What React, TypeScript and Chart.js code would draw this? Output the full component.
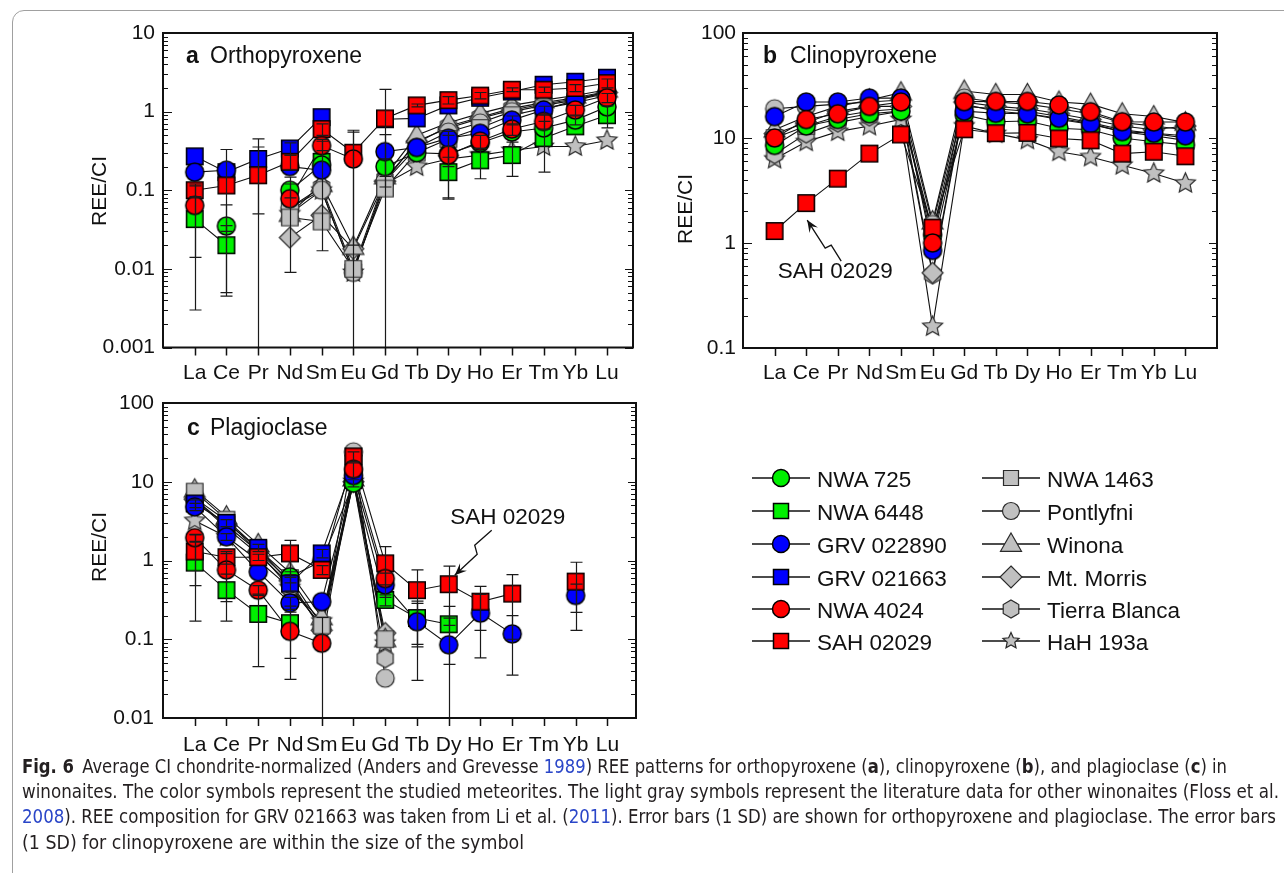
import React, { useEffect, useLayoutEffect, useRef } from "react";
import { Chart, registerables } from "chart.js";

Chart.register(...registerables);

const FONT = "Arial, 'Liberation Sans', Helvetica, sans-serif";
const CAPTION_FONT = "'Liberation Sans Narrow', 'Arial Narrow', 'DejaVu Sans Condensed', Arial, 'Liberation Sans', sans-serif";

// ---------------- data ----------------
const elements = ["La", "Ce", "Pr", "Nd", "Sm", "Eu", "Gd", "Tb", "Dy", "Ho", "Er", "Tm", "Yb", "Lu"];

const seriesNames = [
  "NWA 725", "NWA 6448", "GRV 022890", "GRV 021663", "NWA 4024", "SAH 02029",
  "NWA 1463", "Pontlyfni", "Winona", "Mt. Morris", "Tierra Blanca", "HaH 193a",
];

const opxTickLabels = ["0.001", "0.01", "0.1", "1", "10"];
const cpxTickLabels = ["0.1", "1", "10", "100"];
const plgTickLabels = ["0.01", "0.1", "1", "10", "100"];

// (a) orthopyroxene
const opx_NWA725 = [null, 0.035, null, 0.10, 0.21, null, 0.20, 0.30, 0.29, 0.40, 0.55, 0.62, 0.78, 1.15];
const opx_NWA6448 = [0.043, 0.020, null, null, 0.23, null, null, null, 0.17, 0.24, 0.28, 0.46, 0.65, 0.90];
const opx_GRV022890 = [0.17, 0.18, null, 0.20, 0.18, null, 0.31, 0.35, 0.46, 0.53, 0.78, 1.05, 1.40, 1.80];
const opx_GRV021663 = [0.27, 0.17, 0.25, 0.34, 0.85, null, 0.80, 0.82, 1.20, 1.50, 1.80, 2.20, 2.40, 2.70];
const opx_NWA4024 = [0.064, null, null, 0.078, 0.37, 0.25, null, null, 0.28, 0.42, 0.60, 0.75, 1.05, 1.50];
const opx_SAH02029 = [0.10, 0.115, 0.155, 0.23, 0.60, 0.30, 0.82, 1.20, 1.40, 1.60, 1.90, 1.90, 2.00, 2.30];
const opx_NWA1463 = [null, null, null, 0.045, 0.040, 0.010, 0.105, 0.30, 0.45, 0.62, 0.90, 1.10, 1.30, 1.60];
const opx_Pontlyfni = [null, null, null, 0.060, 0.100, 0.009, 0.13, 0.35, 0.55, 0.72, 1.00, 1.20, 1.40, 1.70];
const opx_Winona = [null, null, null, 0.050, 0.120, 0.019, 0.15, 0.50, 0.72, 0.95, 1.20, 1.40, 1.60, 1.90];
const opx_MtMorris = [null, null, null, 0.025, 0.048, 0.018, 0.13, 0.42, 0.62, 0.82, 1.05, 1.25, 1.45, 1.75];
const opx_TierraBlanca = [null, null, null, 0.060, 0.110, 0.010, 0.14, 0.40, 0.65, 0.85, 1.10, 1.30, 1.50, 1.80];
const opx_HaH193a = [null, null, null, 0.050, 0.100, 0.009, 0.12, 0.20, 0.25, 0.28, 0.32, 0.36, 0.36, 0.43];

// (a) 1 SD
const opxErr_NWA725 = [null, 0.03, null, 0.02, null, null, 0.05, null, 0.21, null, null, null, 0.1, null];
const opxErr_NWA6448 = [0.04, 0.0155, null, null, 0.213, null, null, null, 0.093, 0.10, 0.13, 0.29, null, 0.28];
const opxErr_GRV022890 = [null, 0.15, null, null, null, null, 0.2, null, 0.1, null, 0.1, 0.12, null, null];
const opxErr_GRV021663 = [null, null, 0.2, 0.06, null, null, null, null, null, null, null, null, null, null];
const opxErr_NWA4024 = [0.05, null, null, 0.069, 0.05, 0.3, null, null, 0.08, 0.08, 0.1, 0.15, 0.15, 0.2];
const opxErr_SAH02029 = [0.02, null, 0.2, 0.05, 0.1, 0.28, 1.1, 0.05, 0.15, 0.15, 0.1, 0.15, 0.2, 0.3];

// (b) clinopyroxene
const cpx_NWA725 = [8.5, 13, 15, 17, 18, 1.2, 16.6, 14.3, 14.5, 12.4, 12, 10, 9.2, 8.6];
const cpx_NWA6448 = [null, null, null, null, null, null, null, null, null, null, null, null, null, null];
const cpx_GRV022890 = [16, 22, 22, 24, 24, 0.85, 18, 17.2, 17, 15.4, 13.7, 11.5, 11.1, 10.5];
const cpx_GRV021663 = [null, null, null, null, null, null, null, null, null, null, null, null, null, null];
const cpx_NWA4024 = [10, 15, 17, 20, 22, 1.0, 22.2, 22.3, 22.3, 20.6, 17.8, 14.3, 14.2, 14.2];
const cpx_SAH02029 = [1.3, 2.4, 4.1, 7.1, 10.8, 1.4, 12.1, 11.1, 11.2, 9.9, 9.5, 7.1, 7.4, 6.7];
const cpx_NWA1463 = [10, 13, 16, 18, 19, 1.3, 21, 18, 17, 15, 13.5, 11.5, 10.5, 9.5];
const cpx_Pontlyfni = [19, 20, 21, 22, 23, 1.5, 24, 22, 21, 19, 17, 14, 13, 12];
const cpx_Winona = [12, 16, 20, 23, 27, 1.6, 28, 26, 26, 22, 21, 17, 16, 14];
const cpx_MtMorris = [11, 14, 18, 20, 20, 0.52, 22, 20, 19, 17, 15, 13, 12, 13];
const cpx_TierraBlanca = [7, 11, 14, 16, 18, 0.5, 20, 19, 18, 16, 14, 12, 11, 10];
const cpx_HaH193a = [6.3, 9.2, 11.5, 13, 15, 0.16, 13, 11, 9.6, 7.4, 6.6, 5.5, 4.6, 3.7];

// (c) plagioclase
const plg_NWA725 = [null, null, null, 0.62, 0.98, 9.6, null, null, null, null, null, null, null, null];
const plg_NWA6448 = [0.94, 0.42, 0.21, 0.16, null, 10.5, 0.316, 0.186, 0.155, null, null, null, null, null];
const plg_GRV022890 = [4.8, 2.0, 0.72, 0.29, 0.30, 12, 0.49, 0.167, 0.085, 0.215, 0.117, null, 0.36, null];
const plg_GRV021663 = [5.3, 3.0, 1.45, 0.51, 1.23, 17, null, null, null, null, null, null, null, null];
const plg_NWA4024 = [1.95, 0.76, 0.42, 0.126, 0.089, 14.4, 0.59, null, null, null, null, null, null, null];
const plg_SAH02029 = [1.3, 1.1, 1.1, 1.23, 0.76, 21, 0.92, 0.42, 0.50, 0.30, 0.38, null, 0.54, null];
const plg_NWA1463 = [7.5, 3.3, 1.4, 0.6, 0.15, 12, 0.10, null, null, null, null, null, null, null];
const plg_Pontlyfni = [6.0, 2.6, 1.2, 0.5, 0.14, 24, 0.032, null, null, null, null, null, null, null];
const plg_Winona = [7.9, 3.6, 1.6, 0.7, 0.19, 11, 0.10, null, null, null, null, null, null, null];
const plg_MtMorris = [6.0, 2.8, 1.3, 0.55, 0.13, 10, 0.12, null, null, null, null, null, null, null];
const plg_TierraBlanca = [6.2, 3.2, 1.3, 0.45, 0.15, 10, 0.057, null, null, null, null, null, null, null];
const plg_HaH193a = [3.2, 2.0, 1.0, 0.45, 0.17, 10, 0.089, null, null, null, null, null, null, null];

// (c) 1 SD
const plgErr_NWA725 = [null, null, null, 0.1, null, 1.0, null, null, null, null, null, null, null, null];
const plgErr_NWA6448 = [0.77, 0.25, 0.165, 0.103, null, null, 0.05, 0.1, 0.107, null, null, null, null, null];
const plgErr_GRV022890 = [0.5, 0.2, null, 0.05, null, null, null, 0.137, 0.1, 0.157, 0.082, null, 0.14, null];
const plgErr_GRV021663 = [0.6, 0.3, 0.15, 0.1, 0.15, null, null, null, null, null, null, null, null, null];
const plgErr_NWA4024 = [0.2, 0.46, 0.06, 0.095, 0.1, 3, 0.1, null, null, null, null, null, null, null];
const plgErr_SAH02029 = [0.82, 0.2, 0.1, 0.57, 0.1, 3, 0.58, 0.34, 0.35, 0.17, 0.28, null, 0.41, null];

// ---------------- styles ----------------
const seriesShapes = ["circle", "square", "circle", "square", "circle", "square", "square", "circle", "triangle", "diamond", "hexagon", "star"];
const GREEN = "#00f000", BLUE = "#0000ff", RED = "#ff0000", GRAY = "#c0c0c0";
const seriesFills = [GREEN, GREEN, BLUE, BLUE, RED, RED, GRAY, GRAY, GRAY, GRAY, GRAY, GRAY];
const seriesStrokes = ["#000", "#000", "#000", "#000", "#000", "#000", "#2a2a2a", "#2a2a2a", "#2a2a2a", "#2a2a2a", "#2a2a2a", "#2a2a2a"];
// lower = drawn on top
const seriesOrder = [4, 5, 2, 3, 0, 1, 6, 7, 8, 9, 10, 11];
const shapeSize: any = { circle: 18, square: 16.5, triangle: 21, diamond: 21, hexagon: 18.5, star: 21 };
const legendShapeSize: any = { circle: 17, square: 15, triangle: 21, diamond: 22, hexagon: 18, star: 17 };

function symbolPath(shape: string, cx: number, cy: number, size: number): string {
  const r = size / 2;
  const poly = (pts: number[][]) => "M" + pts.map((p) => p[0].toFixed(2) + "," + p[1].toFixed(2)).join(" L") + " Z";
  switch (shape) {
    case "circle":
      return `M${cx - r},${cy} a${r},${r} 0 1,0 ${2 * r},0 a${r},${r} 0 1,0 ${-2 * r},0 Z`;
    case "square":
      return poly([[cx - r, cy - r], [cx + r, cy - r], [cx + r, cy + r], [cx - r, cy + r]]);
    case "triangle": {
      const h = size * 0.87;
      return poly([[cx, cy - h * 0.6], [cx + r, cy + h * 0.4], [cx - r, cy + h * 0.4]]);
    }
    case "diamond":
      return poly([[cx, cy - r], [cx + r, cy], [cx, cy + r], [cx - r, cy]]);
    case "hexagon": {
      const pts: number[][] = [];
      for (let k = 0; k < 6; k++) {
        const a = (-90 + 60 * k) * Math.PI / 180;
        pts.push([cx + r * Math.cos(a), cy + r * Math.sin(a)]);
      }
      return poly(pts);
    }
    case "star": {
      const pts: number[][] = [];
      for (let k = 0; k < 10; k++) {
        const a = (-90 + 36 * k) * Math.PI / 180;
        const rr = k % 2 === 0 ? r : r * 0.47;
        pts.push([cx + rr * Math.cos(a), cy + rr * Math.sin(a)]);
      }
      return poly(pts);
    }
  }
  return "";
}

const symbolCache: any = {};
function symbolCanvas(s: number): HTMLCanvasElement {
  if (symbolCache[s]) return symbolCache[s];
  const shape = seriesShapes[s];
  const size = shapeSize[shape];
  const lw = s < 6 ? 1.5 : 1.2;
  const dim = Math.ceil(size + lw + 4);
  const c = document.createElement("canvas");
  c.width = dim;
  c.height = dim;
  const g = c.getContext("2d")!;
  const p = new Path2D(symbolPath(shape, dim / 2, dim / 2, size));
  g.fillStyle = seriesFills[s];
  g.fill(p);
  g.lineWidth = lw;
  g.lineJoin = "miter";
  g.strokeStyle = seriesStrokes[s];
  g.stroke(p);
  symbolCache[s] = c;
  return c;
}

// ---------------- panels ----------------
type Note = { series: number; idx: number; text: string; tdx: number; tdy: number; path: number[][] };
type PanelCfg = {
  id: string; left: number; top: number; width: number; height: number;
  area: { l: number; t: number; r: number; b: number };
  xMax: number; tickLabels: string[];
  data: (number | null)[][]; err: ((number | null)[] | null)[];
  letter: string; name: string; letterX: number; nameX: number; titleBase: number;
  yTitleX: number; yTitleY: number; yPad: number; xPad: number; note?: Note;
};

const panelA: PanelCfg = {
  id: "a", left: 40, top: 10, width: 610, height: 390,
  area: { l: 163, t: 33, r: 633, b: 347.5 },
  xMax: 14.82, tickLabels: opxTickLabels,
  data: [opx_NWA725, opx_NWA6448, opx_GRV022890, opx_GRV021663, opx_NWA4024, opx_SAH02029,
    opx_NWA1463, opx_Pontlyfni, opx_Winona, opx_MtMorris, opx_TierraBlanca, opx_HaH193a],
  err: [opxErr_NWA725, opxErr_NWA6448, opxErr_GRV022890, opxErr_GRV021663, opxErr_NWA4024, opxErr_SAH02029,
    null, null, null, null, null, null],
  letter: "a", name: "Orthopyroxene", letterX: 186, nameX: 210, titleBase: 63,
  yTitleX: 100, yTitleY: 191, yPad: 8, xPad: 13,
};

const panelB: PanelCfg = {
  id: "b", left: 650, top: 10, width: 620, height: 390,
  area: { l: 743, t: 33, r: 1217, b: 348 },
  xMax: 15, tickLabels: cpxTickLabels,
  data: [cpx_NWA725, cpx_NWA6448, cpx_GRV022890, cpx_GRV021663, cpx_NWA4024, cpx_SAH02029,
    cpx_NWA1463, cpx_Pontlyfni, cpx_Winona, cpx_MtMorris, cpx_TierraBlanca, cpx_HaH193a],
  err: [null, null, null, null, null, null, null, null, null, null, null, null],
  letter: "b", name: "Clinopyroxene", letterX: 763, nameX: 790, titleBase: 63,
  yTitleX: 686, yTitleY: 209, yPad: 7, xPad: 13,
  note: { series: 5, idx: 1, text: "SAH 02029", tdx: 29, tdy: 69, path: [[35, 58], [25, 42], [19, 45], [1, 17]] },
};

const panelC: PanelCfg = {
  id: "c", left: 40, top: 380, width: 610, height: 400,
  area: { l: 163, t: 403, r: 636, b: 718 },
  xMax: 14.9, tickLabels: plgTickLabels,
  data: [plg_NWA725, plg_NWA6448, plg_GRV022890, plg_GRV021663, plg_NWA4024, plg_SAH02029,
    plg_NWA1463, plg_Pontlyfni, plg_Winona, plg_MtMorris, plg_TierraBlanca, plg_HaH193a],
  err: [plgErr_NWA725, plgErr_NWA6448, plgErr_GRV022890, plgErr_GRV021663, plgErr_NWA4024, plgErr_SAH02029,
    null, null, null, null, null, null],
  letter: "c", name: "Plagioclase", letterX: 187, nameX: 210, titleBase: 435,
  yTitleX: 100, yTitleY: 547, yPad: 9, xPad: 15,
  note: { series: 5, idx: 8, text: "SAH 02029", tdx: 59, tdy: -66, path: [[43, -54], [26, -39], [28.5, -30], [6, -9]] },
};

function makePlugin(cfg: PanelCfg) {
  const yVals = cfg.tickLabels.map((t) => parseFloat(t));
  const yMin = yVals[0], yMax = yVals[yVals.length - 1];
  return {
    id: "deco_" + cfg.id,
    afterDatasetsDraw(chart: any) {
      const ctx: CanvasRenderingContext2D = chart.ctx;
      const { left, top, right, bottom } = chart.chartArea;
      const xs = chart.scales.x, ys = chart.scales.y;
      // error bars
      ctx.save();
      ctx.strokeStyle = "#1a1a1a";
      ctx.lineWidth = 1.2;
      cfg.err.forEach((errs, s) => {
        if (!errs) return;
        errs.forEach((e, i) => {
          const v = cfg.data[s][i];
          if (e == null || v == null) return;
          const px = Math.round(xs.getPixelForValue(i + 1)) + 0.5;
          const hi = v + e, lo = v - e;
          const yHi = Math.max(top, ys.getPixelForValue(hi));
          const yLo = lo > yMin ? ys.getPixelForValue(lo) : bottom;
          ctx.beginPath();
          ctx.moveTo(px, yHi);
          ctx.lineTo(px, yLo);
          if (hi < yMax) { ctx.moveTo(px - 6, yHi); ctx.lineTo(px + 6, yHi); }
          if (lo > yMin) { ctx.moveTo(px - 6, yLo); ctx.lineTo(px + 6, yLo); }
          ctx.stroke();
        });
      });
      ctx.restore();
      // frame and ticks
      ctx.save();
      ctx.strokeStyle = "#111";
      ctx.lineWidth = 2;
      ctx.strokeRect(left, top, right - left, bottom - top);
      ctx.lineWidth = 1.5;
      ctx.beginPath();
      for (let i = 1; i <= elements.length; i++) {
        const px = Math.round(xs.getPixelForValue(i)) + 0.5;
        ctx.moveTo(px, bottom);
        ctx.lineTo(px, bottom + 8);
      }
      ctx.stroke();
      ctx.lineWidth = 1.2;
      ctx.beginPath();
      const p0 = Math.round(Math.log10(yMin)), p1 = Math.round(Math.log10(yMax));
      for (let p = p0; p <= p1; p++) {
        for (let k = 1; k <= 9; k++) {
          const v = k * Math.pow(10, p);
          if (v > yMax * 1.0001) break;
          const py = Math.round(ys.getPixelForValue(v)) + 0.5;
          const lenL = k === 1 ? 9 : 5;
          const lenR = k === 1 ? 8 : 5;
          ctx.moveTo(left, py); ctx.lineTo(left + lenL, py);
          ctx.moveTo(right, py); ctx.lineTo(right - lenR, py);
        }
      }
      ctx.stroke();
      ctx.restore();
    },
    afterDraw(chart: any) {
      const ctx: CanvasRenderingContext2D = chart.ctx;
      ctx.save();
      ctx.fillStyle = "#111";
      ctx.textBaseline = "alphabetic";
      ctx.textAlign = "left";
      ctx.font = `bold 23px ${FONT}`;
      ctx.fillText(cfg.letter, cfg.letterX - cfg.left, cfg.titleBase - cfg.top);
      ctx.font = `23px ${FONT}`;
      ctx.fillText(cfg.name, cfg.nameX - cfg.left, cfg.titleBase - cfg.top);
      // y title
      ctx.save();
      ctx.translate(cfg.yTitleX - cfg.left, cfg.yTitleY - cfg.top);
      ctx.rotate(-Math.PI / 2);
      ctx.textAlign = "center";
      ctx.textBaseline = "middle";
      ctx.font = `21px ${FONT}`;
      ctx.fillText("REE/CI", 0, 0);
      ctx.restore();
      // annotation
      const n = cfg.note;
      if (n) {
        const v = cfg.data[n.series][n.idx];
        if (v != null) {
          const ax = chart.scales.x.getPixelForValue(n.idx + 1);
          const ay = chart.scales.y.getPixelForValue(v);
          ctx.font = `22.5px ${FONT}`;
          ctx.textAlign = "center";
          ctx.textBaseline = "middle";
          ctx.fillText(n.text, ax + n.tdx, ay + n.tdy);
          ctx.strokeStyle = "#111";
          ctx.lineWidth = 1.3;
          ctx.beginPath();
          n.path.forEach((p, i) => (i === 0 ? ctx.moveTo(ax + p[0], ay + p[1]) : ctx.lineTo(ax + p[0], ay + p[1])));
          ctx.stroke();
          const a = n.path[n.path.length - 2], b = n.path[n.path.length - 1];
          const ang = Math.atan2(b[1] - a[1], b[0] - a[0]);
          const tx = ax + b[0], ty = ay + b[1];
          const L = 12, W = 5;
          ctx.beginPath();
          ctx.moveTo(tx, ty);
          ctx.lineTo(tx - L * Math.cos(ang) + W * Math.sin(ang), ty - L * Math.sin(ang) - W * Math.cos(ang));
          ctx.lineTo(tx - 0.6 * L * Math.cos(ang), ty - 0.6 * L * Math.sin(ang));
          ctx.lineTo(tx - L * Math.cos(ang) - W * Math.sin(ang), ty - L * Math.sin(ang) + W * Math.cos(ang));
          ctx.closePath();
          ctx.fillStyle = "#111";
          ctx.fill();
        }
      }
      ctx.restore();
    },
  };
}

function Panel({ cfg }: { cfg: PanelCfg }) {
  const ref = useRef<HTMLCanvasElement>(null);
  useEffect(() => {
    const canvas = ref.current;
    if (!canvas) return;
    const yVals = cfg.tickLabels.map((t) => parseFloat(t));
    const datasets: any[] = [];
    cfg.data.forEach((vals, s) => {
      if (vals.every((v) => v == null)) return;
      const pts = vals.map((v, i) => ({ x: i + 1, y: v }));
      datasets.push({
        label: seriesNames[s] + " line", data: pts, showLine: true, borderColor: "#111",
        borderWidth: 1.1, pointRadius: 0, pointHoverRadius: 0, spanGaps: false, tension: 0, order: 100 + s,
      });
      datasets.push({
        label: seriesNames[s], data: pts, showLine: false, pointStyle: symbolCanvas(s),
        pointRadius: 9, pointHoverRadius: 9, order: seriesOrder[s],
      });
    });
    const chart = new Chart(canvas, {
      type: "scatter",
      data: { datasets },
      options: {
        animation: false,
        responsive: false,
        maintainAspectRatio: false,
        events: [],
        layout: { padding: { left: 0, top: cfg.area.t - cfg.top, right: cfg.left + cfg.width - cfg.area.r, bottom: 0 } },
        plugins: { legend: { display: false }, tooltip: { enabled: false }, title: { display: false } },
        scales: {
          x: {
            type: "linear", min: 0, max: cfg.xMax,
            grid: { display: false, drawTicks: false }, border: { display: false },
            afterFit: (s: any) => { s.height = cfg.top + cfg.height - cfg.area.b; },
            afterBuildTicks: (s: any) => { s.ticks = elements.map((_, i) => ({ value: i + 1 })); },
            ticks: {
              autoSkip: false, maxRotation: 0, minRotation: 0, padding: cfg.xPad, color: "#111",
              font: { family: FONT, size: 21 },
              callback: (_v: any, i: number) => elements[i],
            },
          },
          y: {
            type: "logarithmic", min: yVals[0], max: yVals[yVals.length - 1],
            grid: { display: false, drawTicks: false }, border: { display: false },
            afterFit: (s: any) => { s.width = cfg.area.l - cfg.left; },
            afterBuildTicks: (s: any) => { s.ticks = yVals.map((v) => ({ value: v })); },
            ticks: {
              autoSkip: false, padding: cfg.yPad, color: "#111",
              font: { family: FONT, size: 21 },
              callback: (_v: any, i: number) => cfg.tickLabels[i],
            },
          },
        },
      } as any,
      plugins: [makePlugin(cfg)],
    });
    return () => chart.destroy();
  }, [cfg]);
  return (
    <canvas
      ref={ref}
      width={cfg.width}
      height={cfg.height}
      style={{ position: "absolute", left: cfg.left, top: cfg.top, width: cfg.width, height: cfg.height }}
    />
  );
}

// ---------------- legend ----------------
const legendRowY = [478, 511, 544, 577, 609, 641];
const legendLineX = [[752, 810], [982, 1040]];
const legendTextX = [817, 1047];

function Legend() {
  return (
    <svg width={1284} height={873} style={{ position: "absolute", left: 0, top: 0, pointerEvents: "none" }}>
      {seriesNames.map((name, s) => {
        const col = s < 6 ? 0 : 1;
        const cy = legendRowY[s % 6];
        const [x0, x1] = legendLineX[col];
        const mx = (x0 + x1) / 2;
        const shape = seriesShapes[s];
        return (
          <g key={name}>
            <line x1={x0} x2={x1} y1={cy} y2={cy} stroke="#111" strokeWidth={1.6} />
            <path d={symbolPath(shape, mx, cy, legendShapeSize[shape])} fill={seriesFills[s]}
              stroke={seriesStrokes[s]} strokeWidth={s < 6 ? 1.5 : 1.2} />
            <text x={legendTextX[col]} y={cy + 1} dominantBaseline="central" fontSize={22.5}
              fontFamily={FONT} fill="#111">{name}</text>
          </g>
        );
      })}
    </svg>
  );
}

// ---------------- caption ----------------
function CaptionLine({ top, width, children }: { top: number; width: number; children: any }) {
  const ref = useRef<HTMLDivElement>(null);
  useLayoutEffect(() => {
    const fit = () => {
      const el = ref.current;
      if (!el) return;
      el.style.transform = "none";
      const w = el.getBoundingClientRect().width;
      if (w > 0) el.style.transform = `scaleX(${width / w})`;
    };
    fit();
    const fonts: any = (document as any).fonts;
    if (fonts && fonts.ready) fonts.ready.then(fit);
  }, [width]);
  return (
    <div
      ref={ref}
      style={{
        position: "absolute", left: 22, top, whiteSpace: "nowrap", transformOrigin: "0 0",
        fontFamily: CAPTION_FONT, fontSize: 19, lineHeight: "22px", color: "#231f20",
      }}
    >
      {children}
    </div>
  );
}

const LINK = "#2a46c8";

export default function App() {
  return (
    <div style={{ position: "fixed", left: 0, top: 0, width: 1284, height: 873, background: "#fff", overflow: "hidden", fontFamily: FONT }}>
      <div style={{ position: "absolute", left: 12, top: 10, width: 1320, height: 920, border: "1px solid #a0a0a0", borderRadius: 12, boxSizing: "border-box" }} />
      <Panel cfg={panelA} />
      <Panel cfg={panelB} />
      <Panel cfg={panelC} />
      <Legend />
      <CaptionLine top={755} width={1205}>
        <b>Fig. 6</b>{"\u2002"}Average CI chondrite-normalized (Anders and Grevesse <span style={{ color: LINK }}>1989</span>) REE patterns for orthopyroxene (<b>a</b>), clinopyroxene (<b>b</b>), and plagioclase (<b>c</b>) in
      </CaptionLine>
      <CaptionLine top={780} width={1257}>
        winonaites. The color symbols represent the studied meteorites. The light gray symbols represent the literature data for other winonaites (Floss et al.
      </CaptionLine>
      <CaptionLine top={805} width={1254}>
        <span style={{ color: LINK }}>2008</span>). REE composition for GRV 021663 was taken from Li et al. (<span style={{ color: LINK }}>2011</span>). Error bars (1 SD) are shown for orthopyroxene and plagioclase. The error bars
      </CaptionLine>
      <CaptionLine top={831} width={502}>
        (1 SD) for clinopyroxene are within the size of the symbol
      </CaptionLine>
    </div>
  );
}
